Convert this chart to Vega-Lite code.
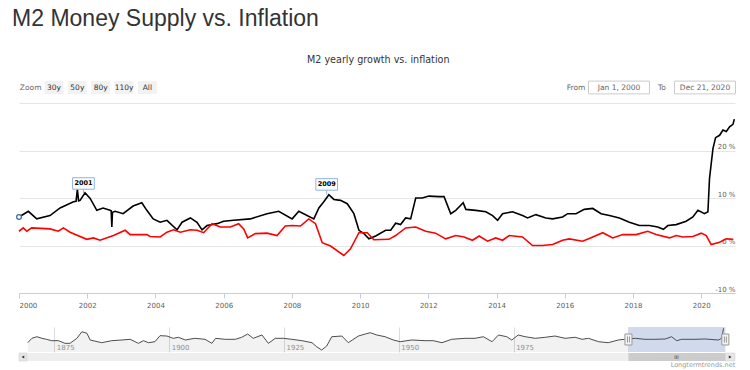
{
  "$schema": "https://vega.github.io/schema/vega-lite/v6.json",
  "padding": {"left": 12, "top": 8, "right": 10, "bottom": 0},
  "config": {
    "font": "DejaVu Sans",
    "view": {"stroke": null},
    "concat": {"spacing": 0}
  },
  "title": {
    "text": "M2 Money Supply vs. Inflation",
    "anchor": "start",
    "dx": -2,
    "font": "Liberation Sans",
    "fontSize": 23,
    "fontWeight": "normal",
    "color": "#333333",
    "offset": 24
  },
  "datasets": {
    "m2": [
      {"date": "2000-01-01", "value": 6.0}, {"date": "2000-04-10", "value": 7.2}, {"date": "2000-07-09", "value": 5.6},
      {"date": "2000-11-28", "value": 6.3}, {"date": "2001-03-16", "value": 7.9}, {"date": "2001-08-06", "value": 9.2},
      {"date": "2001-09-03", "value": 9.3}, {"date": "2001-09-17", "value": 11.8}, {"date": "2001-09-30", "value": 9.4},
      {"date": "2001-10-16", "value": 9.5}, {"date": "2001-12-08", "value": 11.1}, {"date": "2002-02-01", "value": 9.9},
      {"date": "2002-04-13", "value": 7.4}, {"date": "2002-06-19", "value": 7.9}, {"date": "2002-09-02", "value": 7.4},
      {"date": "2002-09-14", "value": 7.3}, {"date": "2002-09-21", "value": 3.9}, {"date": "2002-09-28", "value": 7.0},
      {"date": "2002-10-27", "value": 7.2}, {"date": "2003-01-20", "value": 6.7}, {"date": "2003-05-07", "value": 8.3},
      {"date": "2003-08-08", "value": 9.0}, {"date": "2003-10-01", "value": 7.4}, {"date": "2003-12-08", "value": 5.6},
      {"date": "2004-02-21", "value": 4.9}, {"date": "2004-05-03", "value": 5.3}, {"date": "2004-08-19", "value": 3.3},
      {"date": "2004-10-12", "value": 4.9}, {"date": "2005-01-09", "value": 5.8}, {"date": "2005-03-21", "value": 4.9},
      {"date": "2005-05-14", "value": 3.3}, {"date": "2005-07-07", "value": 4.2}, {"date": "2005-10-22", "value": 4.6},
      {"date": "2006-01-01", "value": 5.1}, {"date": "2006-04-17", "value": 5.3}, {"date": "2006-10-13", "value": 5.6},
      {"date": "2007-04-10", "value": 6.7}, {"date": "2007-08-13", "value": 7.2}, {"date": "2008-01-04", "value": 5.6},
      {"date": "2008-03-15", "value": 7.2}, {"date": "2008-08-23", "value": 5.6}, {"date": "2008-10-16", "value": 7.9},
      {"date": "2008-12-08", "value": 9.2}, {"date": "2009-01-31", "value": 10.7}, {"date": "2009-03-26", "value": 9.7},
      {"date": "2009-06-05", "value": 9.5}, {"date": "2009-08-16", "value": 8.8}, {"date": "2009-10-26", "value": 6.7},
      {"date": "2009-12-19", "value": 3.2}, {"date": "2010-02-11", "value": 2.5}, {"date": "2010-04-05", "value": 1.4},
      {"date": "2010-06-16", "value": 2.0}, {"date": "2010-10-01", "value": 3.2}, {"date": "2010-11-24", "value": 3.2},
      {"date": "2011-01-16", "value": 4.7}, {"date": "2011-03-10", "value": 4.4}, {"date": "2011-05-03", "value": 5.8},
      {"date": "2011-06-26", "value": 5.6}, {"date": "2011-08-19", "value": 10.0}, {"date": "2011-10-29", "value": 10.0},
      {"date": "2012-01-08", "value": 10.4}, {"date": "2012-04-24", "value": 10.3}, {"date": "2012-06-17", "value": 10.3},
      {"date": "2012-07-23", "value": 8.5}, {"date": "2012-08-28", "value": 6.7}, {"date": "2012-10-21", "value": 7.4},
      {"date": "2012-11-25", "value": 8.1}, {"date": "2013-01-08", "value": 9.0}, {"date": "2013-02-06", "value": 7.6},
      {"date": "2013-05-24", "value": 7.4}, {"date": "2013-09-08", "value": 7.1}, {"date": "2013-11-19", "value": 6.3},
      {"date": "2014-01-12", "value": 5.3}, {"date": "2014-03-06", "value": 6.7}, {"date": "2014-06-21", "value": 7.1},
      {"date": "2014-10-06", "value": 6.3}, {"date": "2014-11-29", "value": 5.8}, {"date": "2015-02-26", "value": 6.5},
      {"date": "2015-06-13", "value": 5.8}, {"date": "2015-08-24", "value": 5.6}, {"date": "2015-12-09", "value": 6.0},
      {"date": "2016-02-01", "value": 6.7}, {"date": "2016-05-01", "value": 6.7}, {"date": "2016-07-28", "value": 7.6},
      {"date": "2016-10-27", "value": 7.8}, {"date": "2017-01-24", "value": 6.7}, {"date": "2017-04-23", "value": 6.3},
      {"date": "2017-08-08", "value": 5.8}, {"date": "2017-11-23", "value": 4.9}, {"date": "2018-03-10", "value": 4.2},
      {"date": "2018-06-25", "value": 4.2}, {"date": "2018-09-23", "value": 3.9}, {"date": "2018-11-22", "value": 3.4},
      {"date": "2019-01-09", "value": 4.2}, {"date": "2019-04-08", "value": 4.4}, {"date": "2019-07-24", "value": 5.1},
      {"date": "2019-10-04", "value": 6.0}, {"date": "2019-11-27", "value": 7.4}, {"date": "2020-02-05", "value": 6.7},
      {"date": "2020-03-13", "value": 7.1}, {"date": "2020-03-30", "value": 14.1}, {"date": "2020-05-06", "value": 20.4},
      {"date": "2020-06-03", "value": 22.7}, {"date": "2020-07-16", "value": 23.2}, {"date": "2020-08-21", "value": 24.3},
      {"date": "2020-09-26", "value": 24.0}, {"date": "2020-10-31", "value": 25.0}, {"date": "2020-12-06", "value": 25.5},
      {"date": "2020-12-21", "value": 26.6}
    ],
    "cpi": [
      {"date": "2000-01-01", "value": 3.0}, {"date": "2000-02-16", "value": 3.7}, {"date": "2000-03-24", "value": 3.0},
      {"date": "2000-05-16", "value": 3.7}, {"date": "2000-11-28", "value": 3.5}, {"date": "2001-02-26", "value": 3.0},
      {"date": "2001-04-20", "value": 3.7}, {"date": "2001-07-01", "value": 2.8}, {"date": "2001-12-27", "value": 1.3},
      {"date": "2002-03-08", "value": 1.6}, {"date": "2002-05-18", "value": 1.1}, {"date": "2002-10-08", "value": 2.1},
      {"date": "2003-02-11", "value": 3.2}, {"date": "2003-04-05", "value": 2.3}, {"date": "2003-10-01", "value": 2.3},
      {"date": "2003-11-05", "value": 1.9}, {"date": "2004-02-21", "value": 1.8}, {"date": "2004-05-03", "value": 2.8},
      {"date": "2004-07-13", "value": 3.3}, {"date": "2004-09-23", "value": 2.8}, {"date": "2005-01-09", "value": 3.3},
      {"date": "2005-03-21", "value": 3.2}, {"date": "2005-05-31", "value": 2.7}, {"date": "2005-08-29", "value": 4.6},
      {"date": "2005-11-26", "value": 3.9}, {"date": "2006-03-13", "value": 3.9}, {"date": "2006-06-10", "value": 4.6},
      {"date": "2006-08-03", "value": 3.5}, {"date": "2006-09-15", "value": 1.6}, {"date": "2006-12-06", "value": 2.5},
      {"date": "2007-04-10", "value": 2.6}, {"date": "2007-07-26", "value": 2.1}, {"date": "2007-10-23", "value": 4.1},
      {"date": "2008-01-04", "value": 4.2}, {"date": "2008-04-02", "value": 4.1}, {"date": "2008-06-30", "value": 5.6},
      {"date": "2008-09-10", "value": 4.6}, {"date": "2008-11-21", "value": 0.6}, {"date": "2009-02-18", "value": -0.1},
      {"date": "2009-07-10", "value": -2.1}, {"date": "2009-09-20", "value": -0.7}, {"date": "2009-12-19", "value": 2.7},
      {"date": "2010-03-18", "value": 2.7}, {"date": "2010-05-28", "value": 1.2}, {"date": "2010-11-05", "value": 1.3},
      {"date": "2011-01-16", "value": 2.1}, {"date": "2011-05-03", "value": 3.7}, {"date": "2011-08-19", "value": 3.9},
      {"date": "2011-12-04", "value": 3.0}, {"date": "2012-03-19", "value": 2.6}, {"date": "2012-07-05", "value": 1.4},
      {"date": "2012-10-21", "value": 2.1}, {"date": "2013-01-18", "value": 1.8}, {"date": "2013-04-18", "value": 1.1},
      {"date": "2013-06-28", "value": 2.0}, {"date": "2013-09-26", "value": 0.9}, {"date": "2013-12-23", "value": 1.6},
      {"date": "2014-03-06", "value": 1.1}, {"date": "2014-05-16", "value": 2.1}, {"date": "2014-10-06", "value": 1.8},
      {"date": "2015-01-21", "value": 0.0}, {"date": "2015-05-08", "value": 0.0}, {"date": "2015-08-24", "value": 0.2},
      {"date": "2015-12-09", "value": 1.1}, {"date": "2016-02-18", "value": 1.4}, {"date": "2016-07-11", "value": 0.9},
      {"date": "2016-10-27", "value": 1.8}, {"date": "2017-02-11", "value": 2.7}, {"date": "2017-05-29", "value": 1.6},
      {"date": "2017-09-13", "value": 2.3}, {"date": "2018-02-03", "value": 2.3}, {"date": "2018-06-08", "value": 3.0},
      {"date": "2018-09-05", "value": 2.3}, {"date": "2019-01-26", "value": 1.6}, {"date": "2019-04-08", "value": 2.1},
      {"date": "2019-06-18", "value": 1.8}, {"date": "2019-10-04", "value": 1.9}, {"date": "2020-01-01", "value": 2.6},
      {"date": "2020-02-24", "value": 2.1}, {"date": "2020-04-17", "value": 0.2}, {"date": "2020-07-16", "value": 0.7},
      {"date": "2020-09-26", "value": 1.4}, {"date": "2020-12-06", "value": 1.3}
    ],
    "flags": [
      {"date": "2001-11-21", "value": 10.9, "label": "2001"},
      {"date": "2009-01-08", "value": 10.7, "label": "2009"}
    ],
    "pin": [{"date": "2000-01-01", "value": 6.0}],
    "nav": [
      {"year": 1869.2, "value": 0.2}, {"year": 1870.1, "value": 7.8}, {"year": 1871.2, "value": 10.6}, {"year": 1872.3, "value": 7.8},
      {"year": 1873.3, "value": 6.1}, {"year": 1874.4, "value": 3.7}, {"year": 1875.9, "value": 3.7}, {"year": 1877.3, "value": -0.9},
      {"year": 1878.4, "value": -0.9}, {"year": 1879.9, "value": 7.8}, {"year": 1881.0, "value": 19.3}, {"year": 1882.1, "value": 16.5},
      {"year": 1882.8, "value": 4.9}, {"year": 1885.3, "value": 0.2}, {"year": 1887.5, "value": 3.7}, {"year": 1889.7, "value": 4.9},
      {"year": 1891.5, "value": 6.1}, {"year": 1893.3, "value": -0.9}, {"year": 1894.4, "value": 3.7}, {"year": 1895.5, "value": 0.2},
      {"year": 1896.9, "value": 1.9}, {"year": 1898.0, "value": 12.4}, {"year": 1899.5, "value": 11.8}, {"year": 1900.9, "value": 7.8},
      {"year": 1902.0, "value": 9.6}, {"year": 1903.5, "value": 4.9}, {"year": 1905.6, "value": 7.8}, {"year": 1907.8, "value": 6.1},
      {"year": 1909.3, "value": -0.9}, {"year": 1910.1, "value": 7.8}, {"year": 1912.2, "value": 6.1}, {"year": 1914.4, "value": 6.1},
      {"year": 1915.8, "value": 9.6}, {"year": 1917.1, "value": 15.3}, {"year": 1918.3, "value": 7.8}, {"year": 1920.2, "value": 13.6},
      {"year": 1921.6, "value": -0.9}, {"year": 1923.1, "value": 7.8}, {"year": 1924.9, "value": 7.8}, {"year": 1926.7, "value": 6.1},
      {"year": 1928.9, "value": 3.7}, {"year": 1931.1, "value": 0.2}, {"year": 1932.1, "value": -6.8}, {"year": 1933.2, "value": -12.5},
      {"year": 1934.3, "value": -5.6}, {"year": 1935.4, "value": 10.6}, {"year": 1937.6, "value": 11.8}, {"year": 1939.0, "value": 0.2},
      {"year": 1941.2, "value": 11.8}, {"year": 1942.7, "value": 15.3}, {"year": 1943.8, "value": 17.6}, {"year": 1945.2, "value": 13.6},
      {"year": 1947.0, "value": 10.6}, {"year": 1948.8, "value": 4.9}, {"year": 1950.3, "value": 1.9}, {"year": 1952.8, "value": 4.9},
      {"year": 1955.7, "value": 3.7}, {"year": 1957.5, "value": 3.7}, {"year": 1959.4, "value": 0.2}, {"year": 1961.5, "value": 6.1},
      {"year": 1964.4, "value": 7.8}, {"year": 1966.6, "value": 7.8}, {"year": 1968.4, "value": 10.6}, {"year": 1970.3, "value": 1.9},
      {"year": 1971.7, "value": 13.6}, {"year": 1973.5, "value": 10.6}, {"year": 1974.6, "value": 4.9}, {"year": 1976.0, "value": 13.6},
      {"year": 1977.5, "value": 10.6}, {"year": 1979.7, "value": 7.8}, {"year": 1981.9, "value": 9.6}, {"year": 1984.0, "value": 11.8},
      {"year": 1986.2, "value": 7.8}, {"year": 1988.4, "value": 9.6}, {"year": 1989.9, "value": 6.1}, {"year": 1991.3, "value": 7.8},
      {"year": 1993.5, "value": 1.9}, {"year": 1995.6, "value": 0.2}, {"year": 1997.8, "value": 4.9}, {"year": 1999.7, "value": 6.6},
      {"year": 2001.5, "value": 7.8}, {"year": 2003.6, "value": 6.1}, {"year": 2005.8, "value": 6.1}, {"year": 2008.0, "value": 6.6},
      {"year": 2009.4, "value": 10.6}, {"year": 2010.5, "value": 3.7}, {"year": 2011.6, "value": 6.1}, {"year": 2014.5, "value": 6.1},
      {"year": 2016.7, "value": 6.6}, {"year": 2019.6, "value": 4.9}, {"year": 2020.3, "value": 7.8}, {"year": 2020.7, "value": 25.2}
    ],
    "sel": [{"start": 2000.0, "end": 2021.1}],
    "zoombtn": [
      {"label": "Zoom", "kind": "label"}, {"label": "30y", "kind": "button"}, {"label": "50y", "kind": "button"},
      {"label": "80y", "kind": "button"}, {"label": "110y", "kind": "button"}, {"label": "All", "kind": "button"}
    ],
    "range": [
      {"label": "From", "kind": "label"}, {"label": "Jan 1, 2000", "kind": "box"},
      {"label": "To", "kind": "label"}, {"label": "Dec 21, 2020", "kind": "box"}
    ]
  },
  "spacing": 0,
  "vconcat": [
    {
      "title": {"text": "M2 yearly growth vs. inflation", "anchor": "middle", "dx": 0, "fontSize": 9.6, "fontWeight": "normal", "color": "#333333", "offset": 14},
      "spacing": 395.5,
      "hconcat": [
        {
          "width": 140, "height": 13,
          "data": {"name": "zoombtn"},
          "encoding": {
            "x": {"field": "label", "type": "nominal",
              "scale": {"type": "point", "padding": 0.5, "domain": ["Zoom", "30y", "50y", "80y", "110y", "All"]},
              "axis": {"labels": false, "ticks": false, "domain": false, "grid": false, "title": null, "minExtent": 9, "maxExtent": 9}}
          },
          "layer": [
            {"transform": [{"filter": "datum.kind == 'button'"}],
             "mark": {"type": "point", "filled": true, "fill": "#f2f2f2", "opacity": 1, "strokeWidth": 0, "size": 361, "shape": "M-1,-0.684L1,-0.684L1,0.684L-1,0.684Z"}},
            {"mark": {"type": "text", "fontSize": 7.5, "baseline": "middle"},
             "encoding": {"text": {"field": "label"},
               "color": {"field": "kind", "type": "nominal", "scale": {"domain": ["label", "button"], "range": ["#666666", "#333333"]}, "legend": null}}}
          ]
        },
        {
          "width": 172, "height": 13,
          "data": {"name": "range"},
          "encoding": {
            "x": {"field": "label", "type": "nominal",
              "scale": {"type": "point", "padding": 0.5, "domain": ["From", "Jan 1, 2000", "To", "Dec 21, 2020"]},
              "axis": {"labels": false, "ticks": false, "domain": false, "grid": false, "title": null, "minExtent": 9, "maxExtent": 9}}
          },
          "layer": [
            {"transform": [{"filter": "datum.kind == 'box'"}],
             "mark": {"type": "point", "filled": true, "fill": "#ffffff", "stroke": "#cccccc", "opacity": 1, "strokeWidth": 1, "size": 3721, "shape": "M-1,-0.21L1,-0.21L1,0.21L-1,0.21Z"}},
            {"mark": {"type": "text", "fontSize": 7.5, "baseline": "middle"},
             "encoding": {"text": {"field": "label"},
               "color": {"field": "kind", "type": "nominal", "scale": {"domain": ["label", "box"], "range": ["#666666", "#333333"]}, "legend": null}}}
          ]
        }
      ]
    },
    {
      "width": 716, "height": 190,
      "encoding": {
        "x": {"field": "date", "type": "temporal",
          "scale": {"type": "utc", "domain": [{"year": 2000, "month": 1, "date": 1, "utc": true}, {"year": 2020, "month": 12, "date": 28, "utc": true}]},
          "axis": {"format": "%Y", "tickCount": {"interval": "year", "step": 2}, "labelFontSize": 7, "labelColor": "#606060", "labelFlush": true,
            "domainColor": "#C0D0E0", "tickColor": "#C0D0E0", "tickSize": 5, "labelPadding": 3, "grid": false, "title": null, "minExtent": 33, "maxExtent": 33}},
        "y": {"field": "value", "type": "quantitative",
          "scale": {"domain": [-10, 30], "nice": false},
          "axis": {"orient": "right", "values": [-10, 0, 10, 20, 30], "labelExpr": "datum.value == 30 ? '' : datum.value + ' %'",
            "grid": true, "gridColor": "#e6e6e6", "domain": false, "ticks": false, "tickSize": 0, "labelAlign": "right", "labelPadding": 0,
            "labelBaseline": "alphabetic", "labelOffset": -2, "labelFlush": false, "labelFontSize": 7, "labelColor": "#606060", "title": null, "minExtent": 0}}
      },
      "layer": [
        {"data": {"name": "m2"}, "mark": {"type": "line", "color": "#000000", "strokeWidth": 1.6}},
        {"data": {"name": "cpi"}, "mark": {"type": "line", "color": "#ff0000", "strokeWidth": 1.6}},
        {"data": {"name": "flags"}, "mark": {"type": "point", "filled": true, "fill": "#ffffff", "stroke": "#8fb4e0", "strokeWidth": 1, "opacity": 1, "size": 471,
          "shape": "M0,0L0,-0.415M-1,-0.415L1,-0.415L1,-1.475L-1,-1.475Z"}},
        {"data": {"name": "flags"}, "mark": {"type": "text", "fontSize": 6.5, "fontWeight": "bold", "color": "#000000", "baseline": "middle", "dy": -10.3},
          "encoding": {"text": {"field": "label"}}},
        {"data": {"name": "pin"}, "mark": {"type": "point", "shape": "circle", "filled": true, "fill": "#ffffff", "stroke": "#3d6aa6", "strokeWidth": 1.3, "opacity": 1, "size": 22}}
      ]
    },
    {
      "width": 716, "height": 25,
      "encoding": {
        "x": {"type": "quantitative",
          "scale": {"domain": [1867.3, 2023.2], "nice": false, "zero": false},
          "axis": {"values": [1875, 1900, 1925, 1950, 1975, 2000], "format": "d", "grid": true, "gridColor": "#dcdcdc", "domain": false, "ticks": false, "tickSize": 0,
            "labelAlign": "left", "labelBaseline": "alphabetic", "labelPadding": -3, "labelOffset": 2, "labelFontSize": 7, "labelColor": "#999999",
            "labelFlush": false, "title": null, "minExtent": 0, "maxExtent": 0}}
      },
      "layer": [
        {"data": {"name": "nav"}, "mark": {"type": "area", "color": "#000000", "opacity": 0.05},
          "encoding": {"x": {"field": "year", "type": "quantitative"},
            "y": {"field": "value", "type": "quantitative", "scale": {"domain": [-16, 27.5], "nice": false, "zero": false}, "axis": null},
            "y2": {"datum": -16}}},
        {"data": {"name": "sel"}, "mark": {"type": "rect", "color": "#d1daed", "opacity": 1},
          "encoding": {"x": {"field": "start", "type": "quantitative"}, "x2": {"field": "end"}}},
        {"data": {"name": "nav"}, "mark": {"type": "line", "color": "#4d4d4d", "strokeWidth": 1},
          "encoding": {"x": {"field": "year", "type": "quantitative"}, "y": {"field": "value", "type": "quantitative"}}},
        {"data": {"name": "sel"}, "mark": {"type": "point", "filled": true, "fill": "#f2f2f2", "stroke": "#999999", "strokeWidth": 1, "opacity": 1, "size": 121,
          "shape": "M-0.64,-1L0.64,-1L0.64,1L-0.64,1ZM-0.18,-0.55L-0.18,0.55M0.18,-0.55L0.18,0.55"},
          "encoding": {"x": {"field": "start", "type": "quantitative"}}},
        {"data": {"name": "sel"}, "mark": {"type": "point", "filled": true, "fill": "#f2f2f2", "stroke": "#999999", "strokeWidth": 1, "opacity": 1, "size": 121,
          "shape": "M-0.64,-1L0.64,-1L0.64,1L-0.64,1ZM-0.18,-0.55L-0.18,0.55M0.18,-0.55L0.18,0.55"},
          "encoding": {"x": {"field": "end", "type": "quantitative"}}}
      ]
    },
    {
      "width": 716, "height": 8,
      "title": {"text": "Longtermtrends.net", "orient": "bottom", "anchor": "end", "fontSize": 6.5, "fontWeight": "normal", "color": "#999999", "offset": 1},
      "data": {"name": "sel"},
      "encoding": {
        "x": {"type": "quantitative", "scale": {"domain": [1867.3, 2023.2], "nice": false, "zero": false}, "axis": null}
      },
      "layer": [
        {"mark": {"type": "rect", "color": "#eeeeee"}, "encoding": {"x": {"datum": 1867.3}, "x2": {"datum": 2023.2}}},
        {"mark": {"type": "rect", "color": "#cccccc"}, "encoding": {"x": {"field": "start"}, "x2": {"field": "end"}}},
        {"mark": {"type": "text", "text": "III", "fontSize": 5, "color": "#333333", "dx": 48, "baseline": "middle"}, "encoding": {"x": {"field": "start"}}},
        {"mark": {"type": "rect", "color": "#e6e6e6", "stroke": "#cccccc", "strokeWidth": 0.5}, "encoding": {"x": {"datum": 1867.3}, "x2": {"datum": 1869.0}}},
        {"mark": {"type": "rect", "color": "#e6e6e6", "stroke": "#cccccc", "strokeWidth": 0.5}, "encoding": {"x": {"datum": 2021.1}, "x2": {"datum": 2023.2}}},
        {"mark": {"type": "point", "shape": "triangle-left", "filled": true, "color": "#333333", "opacity": 1, "size": 10}, "encoding": {"x": {"datum": 1868.15}}},
        {"mark": {"type": "point", "shape": "triangle-right", "filled": true, "color": "#333333", "opacity": 1, "size": 10}, "encoding": {"x": {"datum": 2022.15}}}
      ]
    }
  ]
}
